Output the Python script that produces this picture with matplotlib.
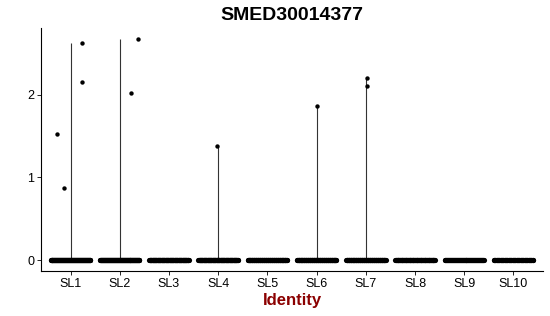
import matplotlib
matplotlib.use("Agg")
import matplotlib.pyplot as plt
import numpy as np

plt.rcParams['font.family'] = ['Liberation Sans', 'DejaVu Sans']

# clusters and expression values
clusters = ["SL1", "SL2", "SL3", "SL4", "SL5", "SL6", "SL7", "SL8", "SL9", "SL10"]
# non-zero cells: cluster index, jitter offset, expression
nz_cluster = [0, 0, 0, 0, 1, 1, 3, 5, 6, 6]
nz_offset = [0.24, 0.23, -0.28, -0.14, 0.37, 0.22, -0.03, 0.0, 0.03, 0.03]
nz_value = [2.63, 2.16, 1.53, 0.87, 2.68, 2.02, 1.38, 1.87, 2.21, 2.11]
# rough count of zero-expression cells per cluster
n_zero = [120, 120, 110, 110, 100, 100, 100, 90, 80, 70]

fig = plt.figure(figsize=(5.5, 3.16), dpi=100)
ax = fig.add_axes([41/550, 1-271/316, (543-41)/550, (271-28)/316])

xs = np.arange(1, len(clusters) + 1)

# trimmed violins collapse to thin lines from 0 to max
for i, x in enumerate(xs):
    vals = [v for c, v in zip(nz_cluster, nz_value) if c == i]
    if vals:
        ax.vlines(x, 0, max(vals), color="#333333", lw=0.8, zorder=1)

# zero cells spread over the jitter width
for i, x in enumerate(xs):
    off = np.linspace(-0.4, 0.4, n_zero[i])
    ax.scatter(x + off, np.zeros_like(off), s=14, color="black", lw=0, zorder=2)

ax.scatter([xs[c] + o for c, o in zip(nz_cluster, nz_offset)], nz_value,
           s=10, color="black", lw=0, zorder=3)

ax.set_xlim(0.4, 10.6)
ax.set_ylim(-0.133, 2.81)
ax.set_xticks(xs)
ax.set_xticklabels(clusters)
ax.set_yticks([0, 1, 2])
ax.tick_params(labelsize=9, colors="black", length=3, width=0.6, pad=2)
for s in ["top", "right"]:
    ax.spines[s].set_visible(False)
for s in ["left", "bottom"]:
    ax.spines[s].set_linewidth(0.8)

ax.set_xlabel("Identity", fontsize=12, fontweight="bold", color="#8B0000", labelpad=2)
ax.set_title("SMED30014377", fontsize=14, fontweight="bold", pad=6)

fig.savefig("out.png", dpi=100)
